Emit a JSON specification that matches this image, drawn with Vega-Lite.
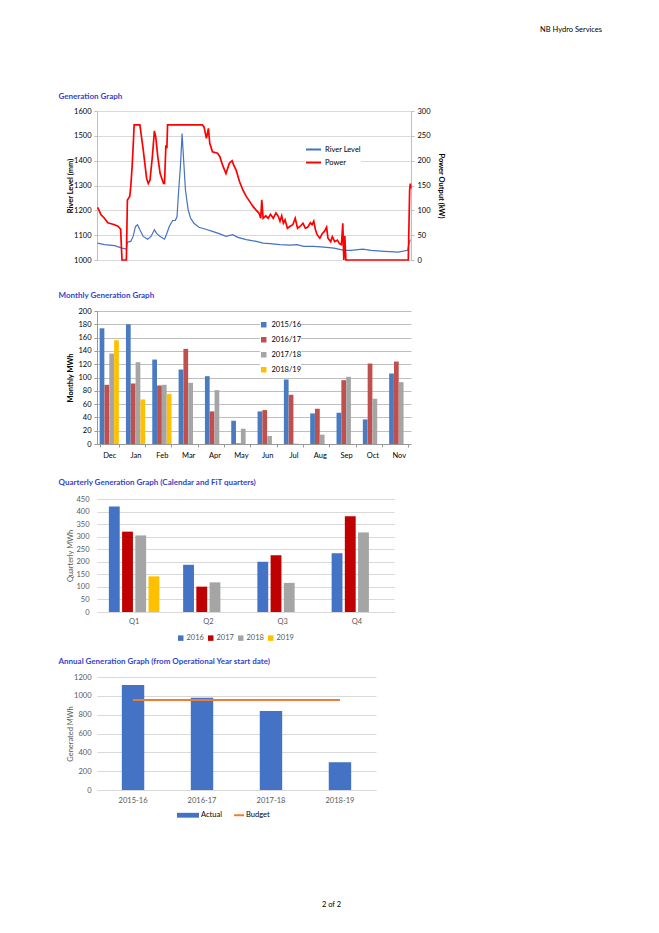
{
  "$schema": "https://vega.github.io/schema/vega-lite/v6.json",
  "background": "white",
  "padding": {"left": 58, "top": 25, "right": 5, "bottom": 5},
  "title": {"text": "NB Hydro Services", "anchor": "end", "fontSize": 7.5, "fontWeight": "normal", "color": "#000000", "offset": 60, "dx": 158},
  "config": {
    "font": "Lato",
    "view": {"stroke": null},
    "axis": {"labelFontSize": 7.5, "titleFontSize": 7.5, "gridColor": "#D9D9D9", "domainColor": "#BFBFBF", "tickColor": "#BFBFBF", "labelColor": "#000000", "tickSize": 3},
    "title": {"fontSize": 8, "fontWeight": "bold", "color": "#3344CC", "anchor": "start"},
    "legend": {"labelFontSize": 7.5, "padding": 0}
  },
  "datasets": {
    "gen": [
      {"t": 2, "series": "Power", "v": 106}, {"t": 12, "series": "Power", "v": 91}, {"t": 22, "series": "Power", "v": 84}, {"t": 32, "series": "Power", "v": 75}, {"t": 42, "series": "Power", "v": 73}, {"t": 52, "series": "Power", "v": 71}, {"t": 62, "series": "Power", "v": 68}, {"t": 70, "series": "Power", "v": 62}, {"t": 74, "series": "Power", "v": 0}, {"t": 87, "series": "Power", "v": 0}, {"t": 90, "series": "Power", "v": 121}, {"t": 97, "series": "Power", "v": 128}, {"t": 100, "series": "Power", "v": 148}, {"t": 104, "series": "Power", "v": 188}, {"t": 108, "series": "Power", "v": 241}, {"t": 110, "series": "Power", "v": 272}, {"t": 127, "series": "Power", "v": 272}, {"t": 137, "series": "Power", "v": 221}, {"t": 147, "series": "Power", "v": 164}, {"t": 152, "series": "Power", "v": 154}, {"t": 157, "series": "Power", "v": 161}, {"t": 164, "series": "Power", "v": 208}, {"t": 170, "series": "Power", "v": 260}, {"t": 174, "series": "Power", "v": 248}, {"t": 180, "series": "Power", "v": 208}, {"t": 187, "series": "Power", "v": 174}, {"t": 197, "series": "Power", "v": 154}, {"t": 200, "series": "Power", "v": 154}, {"t": 204, "series": "Power", "v": 231}, {"t": 207, "series": "Power", "v": 225}, {"t": 209, "series": "Power", "v": 272}, {"t": 312, "series": "Power", "v": 272}, {"t": 317, "series": "Power", "v": 268}, {"t": 324, "series": "Power", "v": 245}, {"t": 330, "series": "Power", "v": 265}, {"t": 334, "series": "Power", "v": 235}, {"t": 342, "series": "Power", "v": 218}, {"t": 357, "series": "Power", "v": 215}, {"t": 364, "series": "Power", "v": 208}, {"t": 372, "series": "Power", "v": 191}, {"t": 382, "series": "Power", "v": 174}, {"t": 392, "series": "Power", "v": 195}, {"t": 400, "series": "Power", "v": 200}, {"t": 405, "series": "Power", "v": 191}, {"t": 412, "series": "Power", "v": 181}, {"t": 422, "series": "Power", "v": 158}, {"t": 432, "series": "Power", "v": 141}, {"t": 442, "series": "Power", "v": 128}, {"t": 452, "series": "Power", "v": 118}, {"t": 462, "series": "Power", "v": 108}, {"t": 472, "series": "Power", "v": 100}, {"t": 480, "series": "Power", "v": 94}, {"t": 485, "series": "Power", "v": 84}, {"t": 488, "series": "Power", "v": 121}, {"t": 492, "series": "Power", "v": 84}, {"t": 500, "series": "Power", "v": 89}, {"t": 507, "series": "Power", "v": 84}, {"t": 514, "series": "Power", "v": 92}, {"t": 522, "series": "Power", "v": 84}, {"t": 530, "series": "Power", "v": 95}, {"t": 537, "series": "Power", "v": 88}, {"t": 542, "series": "Power", "v": 78}, {"t": 547, "series": "Power", "v": 89}, {"t": 552, "series": "Power", "v": 74}, {"t": 557, "series": "Power", "v": 81}, {"t": 564, "series": "Power", "v": 64}, {"t": 572, "series": "Power", "v": 68}, {"t": 580, "series": "Power", "v": 71}, {"t": 587, "series": "Power", "v": 84}, {"t": 594, "series": "Power", "v": 64}, {"t": 602, "series": "Power", "v": 68}, {"t": 610, "series": "Power", "v": 74}, {"t": 617, "series": "Power", "v": 64}, {"t": 624, "series": "Power", "v": 66}, {"t": 632, "series": "Power", "v": 75}, {"t": 637, "series": "Power", "v": 71}, {"t": 642, "series": "Power", "v": 78}, {"t": 647, "series": "Power", "v": 61}, {"t": 652, "series": "Power", "v": 51}, {"t": 660, "series": "Power", "v": 44}, {"t": 667, "series": "Power", "v": 53}, {"t": 674, "series": "Power", "v": 58}, {"t": 680, "series": "Power", "v": 66}, {"t": 684, "series": "Power", "v": 44}, {"t": 692, "series": "Power", "v": 37}, {"t": 697, "series": "Power", "v": 47}, {"t": 704, "series": "Power", "v": 37}, {"t": 712, "series": "Power", "v": 40}, {"t": 718, "series": "Power", "v": 33}, {"t": 724, "series": "Power", "v": 31}, {"t": 728, "series": "Power", "v": 74}, {"t": 731, "series": "Power", "v": 0}, {"t": 734, "series": "Power", "v": 48}, {"t": 737, "series": "Power", "v": 0}, {"t": 742, "series": "Power", "v": 0}, {"t": 922, "series": "Power", "v": 0}, {"t": 926, "series": "Power", "v": 141}, {"t": 928, "series": "Power", "v": 154}, {"t": 930, "series": "Power", "v": 144},
      {"t": 2, "series": "River Level", "v": 1068}, {"t": 22, "series": "River Level", "v": 1062}, {"t": 52, "series": "River Level", "v": 1058}, {"t": 74, "series": "River Level", "v": 1048}, {"t": 87, "series": "River Level", "v": 1044}, {"t": 90, "series": "River Level", "v": 1072}, {"t": 100, "series": "River Level", "v": 1075}, {"t": 107, "series": "River Level", "v": 1095}, {"t": 114, "series": "River Level", "v": 1135}, {"t": 120, "series": "River Level", "v": 1142}, {"t": 127, "series": "River Level", "v": 1122}, {"t": 137, "series": "River Level", "v": 1095}, {"t": 150, "series": "River Level", "v": 1084}, {"t": 160, "series": "River Level", "v": 1095}, {"t": 170, "series": "River Level", "v": 1122}, {"t": 177, "series": "River Level", "v": 1106}, {"t": 187, "series": "River Level", "v": 1095}, {"t": 200, "series": "River Level", "v": 1084}, {"t": 207, "series": "River Level", "v": 1108}, {"t": 214, "series": "River Level", "v": 1135}, {"t": 224, "series": "River Level", "v": 1159}, {"t": 232, "series": "River Level", "v": 1159}, {"t": 237, "series": "River Level", "v": 1175}, {"t": 242, "series": "River Level", "v": 1282}, {"t": 247, "series": "River Level", "v": 1376}, {"t": 252, "series": "River Level", "v": 1509}, {"t": 256, "series": "River Level", "v": 1416}, {"t": 262, "series": "River Level", "v": 1282}, {"t": 270, "series": "River Level", "v": 1202}, {"t": 277, "series": "River Level", "v": 1169}, {"t": 287, "series": "River Level", "v": 1148}, {"t": 302, "series": "River Level", "v": 1132}, {"t": 322, "series": "River Level", "v": 1124}, {"t": 342, "series": "River Level", "v": 1115}, {"t": 362, "series": "River Level", "v": 1106}, {"t": 382, "series": "River Level", "v": 1095}, {"t": 402, "series": "River Level", "v": 1102}, {"t": 417, "series": "River Level", "v": 1091}, {"t": 442, "series": "River Level", "v": 1082}, {"t": 472, "series": "River Level", "v": 1075}, {"t": 492, "series": "River Level", "v": 1068}, {"t": 512, "series": "River Level", "v": 1066}, {"t": 542, "series": "River Level", "v": 1062}, {"t": 572, "series": "River Level", "v": 1060}, {"t": 592, "series": "River Level", "v": 1062}, {"t": 612, "series": "River Level", "v": 1055}, {"t": 642, "series": "River Level", "v": 1055}, {"t": 672, "series": "River Level", "v": 1052}, {"t": 702, "series": "River Level", "v": 1048}, {"t": 732, "series": "River Level", "v": 1039}, {"t": 752, "series": "River Level", "v": 1039}, {"t": 787, "series": "River Level", "v": 1044}, {"t": 812, "series": "River Level", "v": 1039}, {"t": 852, "series": "River Level", "v": 1035}, {"t": 892, "series": "River Level", "v": 1032}, {"t": 920, "series": "River Level", "v": 1039}, {"t": 924, "series": "River Level", "v": 1066}, {"t": 928, "series": "River Level", "v": 1082}
    ],
    "monthly": [
      {"month": "Dec", "year": "2015/16", "mwh": 174}, {"month": "Dec", "year": "2016/17", "mwh": 89}, {"month": "Dec", "year": "2017/18", "mwh": 136}, {"month": "Dec", "year": "2018/19", "mwh": 156},
      {"month": "Jan", "year": "2015/16", "mwh": 180}, {"month": "Jan", "year": "2016/17", "mwh": 91}, {"month": "Jan", "year": "2017/18", "mwh": 123}, {"month": "Jan", "year": "2018/19", "mwh": 67},
      {"month": "Feb", "year": "2015/16", "mwh": 127}, {"month": "Feb", "year": "2016/17", "mwh": 88}, {"month": "Feb", "year": "2017/18", "mwh": 89}, {"month": "Feb", "year": "2018/19", "mwh": 75},
      {"month": "Mar", "year": "2015/16", "mwh": 112}, {"month": "Mar", "year": "2016/17", "mwh": 143}, {"month": "Mar", "year": "2017/18", "mwh": 92},
      {"month": "Apr", "year": "2015/16", "mwh": 102}, {"month": "Apr", "year": "2016/17", "mwh": 49}, {"month": "Apr", "year": "2017/18", "mwh": 81},
      {"month": "May", "year": "2015/16", "mwh": 35}, {"month": "May", "year": "2016/17", "mwh": 1}, {"month": "May", "year": "2017/18", "mwh": 23},
      {"month": "Jun", "year": "2015/16", "mwh": 49}, {"month": "Jun", "year": "2016/17", "mwh": 51}, {"month": "Jun", "year": "2017/18", "mwh": 12},
      {"month": "Jul", "year": "2015/16", "mwh": 97}, {"month": "Jul", "year": "2016/17", "mwh": 74}, {"month": "Jul", "year": "2017/18", "mwh": 0.5},
      {"month": "Aug", "year": "2015/16", "mwh": 46}, {"month": "Aug", "year": "2016/17", "mwh": 53}, {"month": "Aug", "year": "2017/18", "mwh": 14},
      {"month": "Sep", "year": "2015/16", "mwh": 47}, {"month": "Sep", "year": "2016/17", "mwh": 96}, {"month": "Sep", "year": "2017/18", "mwh": 101},
      {"month": "Oct", "year": "2015/16", "mwh": 37}, {"month": "Oct", "year": "2016/17", "mwh": 121}, {"month": "Oct", "year": "2017/18", "mwh": 68},
      {"month": "Nov", "year": "2015/16", "mwh": 106}, {"month": "Nov", "year": "2016/17", "mwh": 124}, {"month": "Nov", "year": "2017/18", "mwh": 93}
    ],
    "quarterly": [
      {"quarter": "Q1", "year": "2016", "mwh": 420}, {"quarter": "Q1", "year": "2017", "mwh": 320}, {"quarter": "Q1", "year": "2018", "mwh": 305}, {"quarter": "Q1", "year": "2019", "mwh": 142},
      {"quarter": "Q2", "year": "2016", "mwh": 188}, {"quarter": "Q2", "year": "2017", "mwh": 101}, {"quarter": "Q2", "year": "2018", "mwh": 118},
      {"quarter": "Q3", "year": "2016", "mwh": 200}, {"quarter": "Q3", "year": "2017", "mwh": 226}, {"quarter": "Q3", "year": "2018", "mwh": 116},
      {"quarter": "Q4", "year": "2016", "mwh": 234}, {"quarter": "Q4", "year": "2017", "mwh": 381}, {"quarter": "Q4", "year": "2018", "mwh": 317}
    ],
    "annual": [
      {"year": "2015-16", "series": "Actual", "mwh": 1115},
      {"year": "2016-17", "series": "Actual", "mwh": 980},
      {"year": "2017-18", "series": "Actual", "mwh": 838},
      {"year": "2018-19", "series": "Actual", "mwh": 295},
      {"year": "2015-16", "series": "Budget", "mwh": 955},
      {"year": "2016-17", "series": "Budget", "mwh": 955},
      {"year": "2017-18", "series": "Budget", "mwh": 955},
      {"year": "2018-19", "series": "Budget", "mwh": 955}
    ]
  },
  "columns": 1,
  "align": "none",
  "spacing": 16,
  "resolve": {"scale": {"color": "independent", "x": "independent", "y": "independent", "xOffset": "independent"}, "legend": {"color": "independent"}, "axis": {"x": "independent", "y": "independent"}},
  "concat": [
    {
      "title": {"text": "Generation Graph", "offset": 6, "dx": -8},
      "width": 314,
      "height": 149,
      "data": {"name": "gen"},
      "encoding": {
        "x": {"field": "t", "type": "quantitative", "scale": {"domain": [0, 930], "nice": false},
          "axis": {"title": null, "labels": false, "ticks": false, "domain": false, "grid": false, "minExtent": 16, "maxExtent": 16}},
        "color": {"field": "series", "type": "nominal", "scale": {"domain": ["River Level", "Power"], "range": ["#4472C4", "#FF0000"]},
          "legend": {"title": null, "orient": "none", "legendX": 208, "legendY": 30, "symbolType": "stroke", "symbolStrokeWidth": 2, "symbolSize": 225, "labelFontSize": 7.5, "labelOffset": 3, "fillColor": "white", "rowPadding": -3}}
      },
      "layer": [
        {
          "transform": [{"filter": "datum.series === 'River Level'"}],
          "mark": {"type": "line", "strokeWidth": 1.2},
          "encoding": {"y": {"field": "v", "type": "quantitative", "scale": {"domain": [1000, 1600], "nice": false},
            "axis": {"title": "River Level (mm)", "titleFontWeight": "bold", "format": "d", "values": [1000, 1100, 1200, 1300, 1400, 1500, 1600], "labelPadding": 3, "minExtent": 22, "maxExtent": 22, "titlePadding": 0.5}}}
        },
        {
          "transform": [{"filter": "datum.series === 'Power'"}],
          "mark": {"type": "line", "strokeWidth": 1.7},
          "encoding": {"y": {"field": "v", "type": "quantitative", "scale": {"domain": [0, 300], "nice": false},
            "axis": {"orient": "right", "title": "Power Output (kW)", "titleFontWeight": "bold", "grid": false, "values": [0, 50, 100, 150, 200, 250, 300], "labelPadding": 3, "titlePadding": 6}}}
        }
      ],
      "resolve": {"scale": {"y": "independent"}}
    },
    {
      "title": {"text": "Monthly Generation Graph", "offset": 7, "dx": -8},
      "width": 314,
      "height": 133,
      "data": {"name": "monthly"},
      "mark": {"type": "bar"},
      "encoding": {
        "x": {"field": "month", "type": "nominal", "sort": ["Dec", "Jan", "Feb", "Mar", "Apr", "May", "Jun", "Jul", "Aug", "Sep", "Oct", "Nov"],
          "scale": {"paddingInner": 0.27, "paddingOuter": 0.1},
          "axis": {"title": null, "labelAngle": 0, "labelPadding": 4, "domainColor": "#999999", "tickColor": "#999999", "tickBand": "extent", "minExtent": 19, "maxExtent": 19}},
        "xOffset": {"field": "year", "type": "nominal", "scale": {"domain": ["2015/16", "2016/17", "2017/18", "2018/19"], "paddingInner": 0.02}},
        "y": {"field": "mwh", "type": "quantitative", "scale": {"domain": [0, 200], "nice": false},
          "axis": {"title": "Monthly MWh", "titleFontWeight": "bold", "values": [0, 20, 40, 60, 80, 100, 120, 140, 160, 180, 200], "gridColor": "#BFBFBF", "domainColor": "#999999", "tickColor": "#999999", "labelPadding": 3, "minExtent": 18, "maxExtent": 18, "titlePadding": 4.5}},
        "color": {"field": "year", "type": "nominal", "scale": {"domain": ["2015/16", "2016/17", "2017/18", "2018/19"], "range": ["#4A7BC0", "#C0504D", "#A5A5A5", "#FFC000"]},
          "legend": {"title": null, "orient": "none", "legendX": 163, "legendY": 10, "symbolType": "square", "symbolSize": 30, "rowPadding": 6, "fillColor": "white"}}
      }
    },
    {
      "title": {"text": "Quarterly Generation Graph (Calendar and FiT quarters)", "offset": 8, "dx": -8},
      "width": 297,
      "height": 113,
      "data": {"name": "quarterly"},
      "mark": {"type": "bar"},
      "encoding": {
        "x": {"field": "quarter", "type": "nominal", "scale": {"paddingInner": 0.32, "paddingOuter": 0.16},
          "axis": {"title": null, "labelAngle": 0, "ticks": false, "labelColor": "#595959", "domainColor": "#D9D9D9", "labelPadding": 5, "minExtent": 13, "maxExtent": 13}},
        "xOffset": {"field": "year", "type": "nominal", "scale": {"domain": ["2016", "2017", "2018", "2019"], "paddingInner": 0.18}},
        "y": {"field": "mwh", "type": "quantitative", "scale": {"domain": [0, 450], "nice": false},
          "axis": {"title": "Quarterly MWh", "titleFontWeight": "normal", "titleColor": "#595959", "labelColor": "#595959", "domain": false, "ticks": false, "values": [0, 50, 100, 150, 200, 250, 300, 350, 400, 450], "labelPadding": 8, "minExtent": 20, "maxExtent": 20, "titlePadding": 2.5}},
        "color": {"field": "year", "type": "nominal", "scale": {"domain": ["2016", "2017", "2018", "2019"], "range": ["#4472C4", "#C00000", "#A5A5A5", "#FFC000"]},
          "legend": {"title": null, "orient": "none", "legendX": 80, "legendY": 135, "direction": "horizontal", "symbolType": "square", "symbolSize": 30, "labelColor": "#595959", "labelOffset": 2, "columnPadding": 3}}
      }
    },
    {
      "title": {"text": "Annual Generation Graph (from Operational Year start date)", "offset": 7, "dx": -8},
      "width": 279,
      "height": 113,
      "data": {"name": "annual"},
      "encoding": {
        "x": {"field": "year", "type": "nominal", "scale": {"paddingInner": 0.675, "paddingOuter": 0.36},
          "axis": {"title": "2 of 2", "titleFontWeight": "normal", "titleColor": "#000000", "titleX": 234, "titleY": 114, "titleAlign": "center", "titleBaseline": "middle", "labelAngle": 0, "ticks": false, "labelColor": "#595959", "domainColor": "#D9D9D9", "labelPadding": 6}},
        "y": {"field": "mwh", "type": "quantitative", "scale": {"domain": [0, 1200], "nice": false},
          "axis": {"title": "Generated MWh", "titleFontWeight": "normal", "titleColor": "#595959", "labelColor": "#595959", "format": "d", "domain": false, "ticks": false, "values": [0, 200, 400, 600, 800, 1000, 1200], "labelPadding": 6, "minExtent": 22, "maxExtent": 22, "titlePadding": 0.5}},
        "color": {"field": "series", "type": "nominal", "scale": {"domain": ["Actual", "Budget"], "range": ["#4472C4", "#ED7D31"]},
          "legend": {"title": null, "orient": "none", "legendX": 80, "legendY": 127, "direction": "horizontal", "symbolType": "square", "symbolSize": 484, "labelColor": "#000000", "labelOffset": 2, "columnPadding": -5,
            "encode": {"symbols": {"update": {
              "shape": {"signal": "datum.value === 'Actual' ? 'M-1,-0.22H1V0.22H-1Z' : 'M0.1,-0.09H1V0.09H0.1Z'"},
              "fill": {"signal": "datum.value === 'Actual' ? '#4472C4' : '#ED7D31'"},
              "stroke": {"value": "transparent"},
              "strokeWidth": {"value": 0},
              "opacity": {"value": 1}
            }}}}}
      },
      "layer": [
        {
          "transform": [{"filter": "datum.series === 'Actual'"}],
          "mark": {"type": "bar"}
        },
        {
          "transform": [{"filter": "datum.series === 'Budget'"}],
          "mark": {"type": "line", "strokeWidth": 2}
        }
      ]
    }
  ]
}
